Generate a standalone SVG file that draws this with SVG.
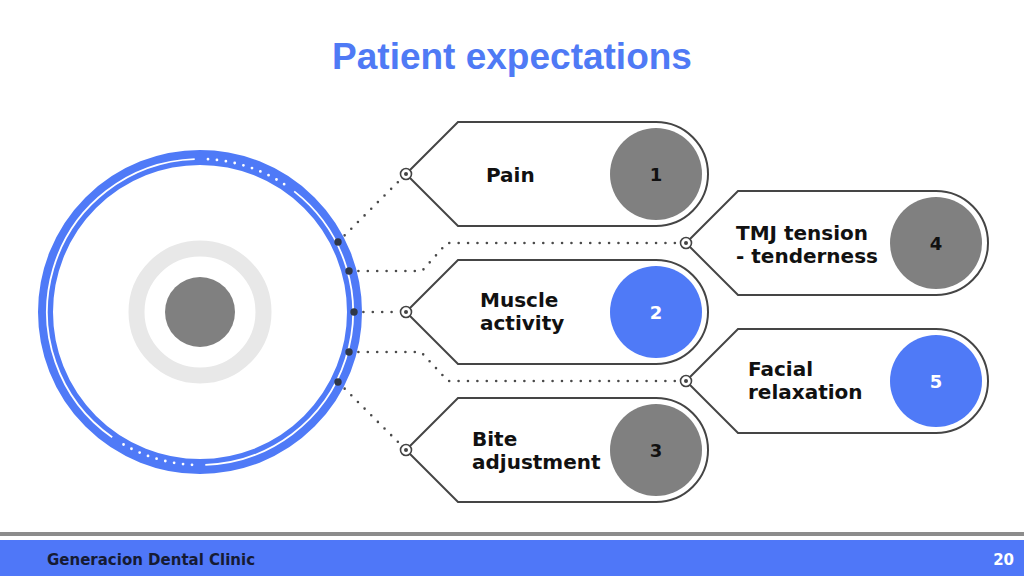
<svg xmlns="http://www.w3.org/2000/svg" width="1024" height="576" viewBox="0 0 1024 576">
<style>
.node{fill:#ffffff;stroke:#454545;stroke-width:2}
.lbl{font-family:"DejaVu Sans",sans-serif;font-weight:bold;font-size:20px;fill:#111111}
.num{font-family:"DejaVu Sans",sans-serif;font-weight:bold;font-size:18px;text-anchor:middle}
.conn{fill:none;stroke:#4a4a4a;stroke-width:2.6;stroke-linecap:round;stroke-dasharray:0 9.4}
.port{fill:#ffffff;stroke:#444444;stroke-width:1.6}
.portdot{fill:#444444}
.rdot{fill:#2f3747}
.gray{fill:#808080}
.blue{fill:#4f7af7}
</style>
<rect x="0" y="0" width="1024" height="576" fill="#ffffff"/>
<text x="512" y="69" text-anchor="middle" font-family="Liberation Sans, Arial, sans-serif" font-weight="bold" font-size="37" fill="#4f7af5">Patient expectations</text>

<g id="hub">
  <circle cx="200" cy="312" r="154.5" fill="none" stroke="#4f7af7" stroke-width="15"/>
  <path d="M294.2,191.4 A153,153 0 0 1 205.3,464.9" fill="none" stroke="#ffffff" stroke-width="1.8"/>
  <path d="M112.2,437.3 A153,153 0 0 1 194.7,159.1" fill="none" stroke="#ffffff" stroke-width="1.8"/>
  <path d="M208.0,159.2 A153,153 0 0 1 285.6,185.2" fill="none" stroke="#ffffff" stroke-width="2.8" stroke-linecap="round" stroke-dasharray="0 9"/>
  <path d="M192.0,464.8 A153,153 0 0 1 118.9,441.7" fill="none" stroke="#ffffff" stroke-width="2.8" stroke-linecap="round" stroke-dasharray="0 9"/>
  <circle cx="200" cy="312" r="63.5" fill="none" stroke="#e8e8e8" stroke-width="16"/>
  <circle cx="200" cy="312" r="35" fill="#808080"/>
</g>

<g id="connectors">
  <path class="conn" d="M338,242 L401,179"/>
  <path class="conn" d="M349,271 L422,271 L447,243 L680,243"/>
  <path class="conn" d="M354,312 L400,312"/>
  <path class="conn" d="M349,352 L421,352 L448,381 L680,381"/>
  <path class="conn" d="M338,382 L401,445"/>
  <circle class="rdot" cx="338" cy="242" r="3.7"/>
  <circle class="rdot" cx="349" cy="271" r="3.7"/>
  <circle class="rdot" cx="354" cy="312" r="3.7"/>
  <circle class="rdot" cx="349" cy="352" r="3.7"/>
  <circle class="rdot" cx="338" cy="382" r="3.7"/>
</g>

<g id="node1">
  <path class="node" d="M406,174 L458,122 L656,122 A52,52 0 0 1 656,226 L458,226 Z"/>
  <circle class="port" cx="406" cy="174" r="5.5"/><circle class="portdot" cx="406" cy="174" r="2"/>
  <circle class="gray" cx="656" cy="174" r="46"/>
  <text class="lbl" x="486" y="182">Pain</text>
  <text class="num" x="656" y="181" fill="#111111">1</text>
</g>

<g id="node2">
  <path class="node" d="M406,312 L458,260 L656,260 A52,52 0 0 1 656,364 L458,364 Z"/>
  <circle class="port" cx="406" cy="312" r="5.5"/><circle class="portdot" cx="406" cy="312" r="2"/>
  <circle class="blue" cx="656" cy="312" r="46"/>
  <text class="lbl" x="480" y="307">Muscle</text>
  <text class="lbl" x="480" y="330">activity</text>
  <text class="num" x="656" y="319" fill="#ffffff">2</text>
</g>

<g id="node3">
  <path class="node" d="M406,450 L458,398 L656,398 A52,52 0 0 1 656,502 L458,502 Z"/>
  <circle class="port" cx="406" cy="450" r="5.5"/><circle class="portdot" cx="406" cy="450" r="2"/>
  <circle class="gray" cx="656" cy="450" r="46"/>
  <text class="lbl" x="472" y="446">Bite</text>
  <text class="lbl" x="472" y="469">adjustment</text>
  <text class="num" x="656" y="457" fill="#111111">3</text>
</g>

<g id="node4">
  <path class="node" d="M686,243 L738,191 L936,191 A52,52 0 0 1 936,295 L738,295 Z"/>
  <circle class="port" cx="686" cy="243" r="5.5"/><circle class="portdot" cx="686" cy="243" r="2"/>
  <circle class="gray" cx="936" cy="243" r="46"/>
  <text class="lbl" x="736" y="240">TMJ tension</text>
  <text class="lbl" x="736" y="263">- tenderness</text>
  <text class="num" x="936" y="250" fill="#111111">4</text>
</g>

<g id="node5">
  <path class="node" d="M686,381 L738,329 L936,329 A52,52 0 0 1 936,433 L738,433 Z"/>
  <circle class="port" cx="686" cy="381" r="5.5"/><circle class="portdot" cx="686" cy="381" r="2"/>
  <circle class="blue" cx="936" cy="381" r="46"/>
  <text class="lbl" x="748" y="376">Facial</text>
  <text class="lbl" x="748" y="399">relaxation</text>
  <text class="num" x="936" y="388" fill="#ffffff">5</text>
</g>

<g id="footer">
  <rect x="0" y="532" width="1024" height="4" fill="#8c8c8c"/>
  <rect x="0" y="540" width="1024" height="36" fill="#4f77f8"/>
  <text x="47" y="565" font-family="DejaVu Sans, sans-serif" font-weight="bold" font-size="15" fill="#161b33">Generacion Dental Clinic</text>
  <text x="1014" y="565" text-anchor="end" font-family="DejaVu Sans, sans-serif" font-weight="bold" font-size="15" fill="#ffffff">20</text>
</g>
</svg>
